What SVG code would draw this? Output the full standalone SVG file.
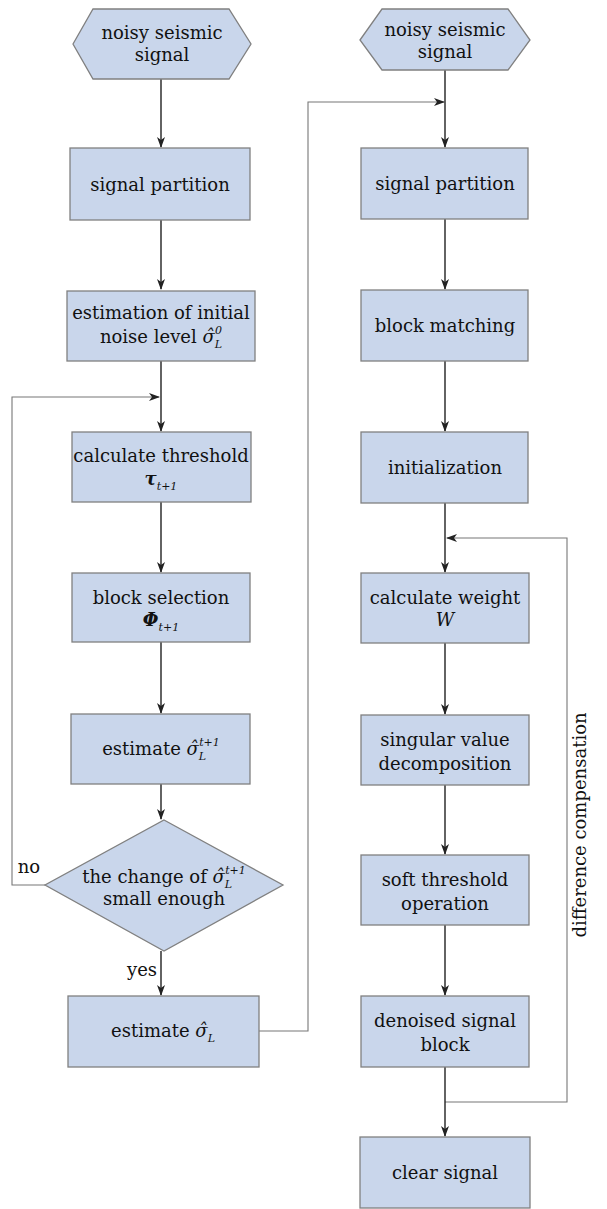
<svg xmlns="http://www.w3.org/2000/svg" width="607" height="1209" viewBox="0 0 607 1209">
<defs>
<style>
.n{fill:#c9d6eb;stroke:#808080;stroke-width:1.3}
.t{font-family:"DejaVu Serif","Liberation Serif",serif;font-size:18px;fill:#111;text-anchor:middle}
.m{font-style:italic}
.s{font-size:11px;font-style:italic}
.c{fill:none;stroke:#222;stroke-width:1.4}
.f{fill:none;stroke:#777;stroke-width:1.1}
</style>
<marker id="a" markerWidth="11" markerHeight="8" refX="10" refY="4" orient="auto" markerUnits="userSpaceOnUse">
<path d="M0,0 L11,4 L0,8 L3,4 z" fill="#222"/>
</marker>
</defs>
<g id="connectors">
<path class="c" d="M161,79 V147" marker-end="url(#a)"/>
<path class="c" d="M161,220 V289" marker-end="url(#a)"/>
<path class="c" d="M161,361 V431" marker-end="url(#a)"/>
<path class="f" d="M45,885 H12 V397 H159" marker-end="url(#a)"/>
<path class="c" d="M161,502 V572" marker-end="url(#a)"/>
<path class="c" d="M161,642 V713" marker-end="url(#a)"/>
<path class="c" d="M161,784 V819" marker-end="url(#a)"/>
<path class="c" d="M161,951 V995" marker-end="url(#a)"/>
<path class="f" d="M259,1031 H308 V102 H444" marker-end="url(#a)"/>
<path class="c" d="M445,70 V147" marker-end="url(#a)"/>
<path class="c" d="M445,219 V289" marker-end="url(#a)"/>
<path class="c" d="M445,361 V431" marker-end="url(#a)"/>
<path class="c" d="M445,503 V572" marker-end="url(#a)"/>
<path class="f" d="M445,1102 H567 V538 H447" marker-end="url(#a)"/>
<path class="c" d="M445,643 V714" marker-end="url(#a)"/>
<path class="c" d="M445,785 V854" marker-end="url(#a)"/>
<path class="c" d="M445,925 V995" marker-end="url(#a)"/>
<path class="c" d="M445,1067 V1136" marker-end="url(#a)"/>
</g>
<g id="l1"><polygon class="n" points="73,44 93,9 229,9 251,44 229,79 93,79"/><text class="t" x="162" y="39">noisy seismic</text><text class="t" x="162" y="61">signal</text></g>
<g id="l2"><rect class="n" x="70" y="148" width="180" height="72"/><text class="t" x="160" y="191">signal partition</text></g>
<g id="l3"><rect class="n" x="67" y="291" width="188" height="70"/><text class="t" x="161" y="319">estimation of initial</text><text class="t" x="161" y="343">noise level <tspan class="m">σ̂</tspan><tspan class="s" dy="5">L</tspan><tspan class="s" dx="-7" dy="-14">0</tspan></text></g>
<g id="l4"><rect class="n" x="72" y="432" width="179" height="70"/><text class="t" x="161" y="462">calculate threshold</text><text class="t" x="161" y="485"><tspan class="m" font-weight="bold">τ</tspan><tspan class="s" dy="5">t+1</tspan></text></g>
<g id="l5"><rect class="n" x="72" y="573" width="178" height="69"/><text class="t" x="161" y="604">block selection</text><text class="t" x="161" y="626"><tspan class="m" font-weight="bold">Φ</tspan><tspan class="s" dy="5">t+1</tspan></text></g>
<g id="l6"><rect class="n" x="71" y="714" width="179" height="70"/><text class="t" x="161" y="755">estimate <tspan class="m">σ̂</tspan><tspan class="s" dy="5">L</tspan><tspan class="s" dx="-7" dy="-14">t+1</tspan></text></g>
<g id="l7"><polygon class="n" points="164,820 283,885 164,951 45,885"/><text class="t" x="164" y="883">the change of <tspan class="m">σ̂</tspan><tspan class="s" dy="5">L</tspan><tspan class="s" dx="-7" dy="-14">t+1</tspan></text><text class="t" x="164" y="905">small enough</text><text class="t" x="29" y="873">no</text><text class="t" x="142" y="976">yes</text></g>
<g id="l8"><rect class="n" x="68" y="996" width="191" height="71"/><text class="t" x="163" y="1037">estimate <tspan class="m">σ̂</tspan><tspan class="s" dy="5">L</tspan></text></g>
<g id="r1"><polygon class="n" points="360,40 382,9 508,9 530,40 508,70 382,70"/><text class="t" x="445" y="36">noisy seismic</text><text class="t" x="445" y="58">signal</text></g>
<g id="r2"><rect class="n" x="361" y="148" width="167" height="71"/><text class="t" x="445" y="190">signal partition</text></g>
<g id="r3"><rect class="n" x="361" y="290" width="167" height="71"/><text class="t" x="445" y="332">block matching</text></g>
<g id="r4"><rect class="n" x="361" y="432" width="167" height="71"/><text class="t" x="445" y="474">initialization</text></g>
<g id="r5"><rect class="n" x="361" y="573" width="168" height="70"/><text class="t" x="445" y="604">calculate weight</text><text class="t m" x="445" y="626">W</text></g>
<g id="r6"><rect class="n" x="361" y="715" width="168" height="70"/><text class="t" x="445" y="746">singular value</text><text class="t" x="445" y="770">decomposition</text></g>
<g id="r7"><rect class="n" x="361" y="855" width="168" height="70"/><text class="t" x="445" y="886">soft threshold</text><text class="t" x="445" y="910">operation</text></g>
<g id="r8"><rect class="n" x="361" y="996" width="168" height="71"/><text class="t" x="445" y="1027">denoised signal</text><text class="t" x="445" y="1051">block</text></g>
<g id="r9"><rect class="n" x="360" y="1137" width="170" height="71"/><text class="t" x="445" y="1179">clear signal</text></g>
<text class="t" transform="translate(586,825) rotate(-90)">difference compensation</text>
</svg>
